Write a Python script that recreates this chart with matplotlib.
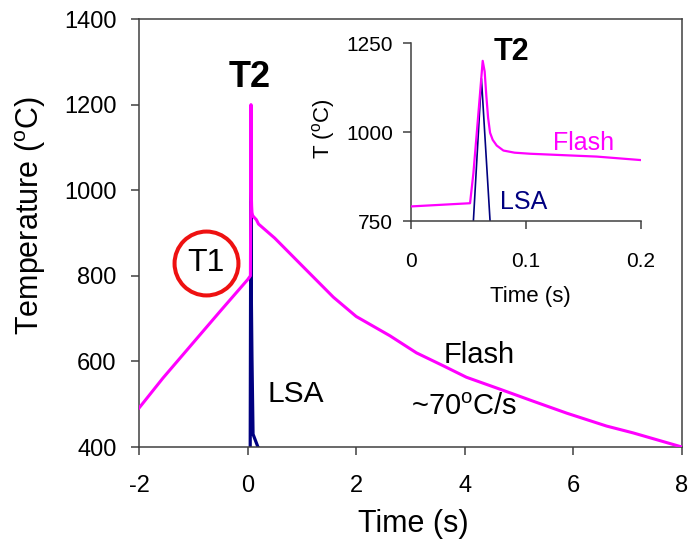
import matplotlib
matplotlib.use("Agg")
import matplotlib.pyplot as plt

plt.rcParams['font.family'] = ['Liberation Sans', 'DejaVu Sans']
plt.rcParams['mathtext.fontset'] = 'custom'
plt.rcParams['mathtext.rm'] = 'Liberation Sans'
plt.rcParams['mathtext.it'] = 'Liberation Sans'
plt.rcParams['mathtext.bf'] = 'Liberation Sans:bold'

# ---- data ----
flash_t = [-2.0, -1.56, -1.0, -0.5, 0.0, 0.0513, 0.0542, 0.0571, 0.060, 0.0623,
           0.0640, 0.0655, 0.067, 0.0687, 0.071, 0.0745, 0.0803, 0.090, 0.1035,
           0.1325, 0.1615, 0.2006,
           0.5, 1.0, 1.58, 2.0, 2.62, 3.11, 3.60, 4.03, 4.65, 5.26, 5.88,
           6.61, 7.10, 8.0]
flash_T = [491, 561, 644, 718, 791, 800, 884, 996, 1109, 1200,
           1170, 1100, 1040, 998, 978, 962, 948, 942, 939,
           935, 931, 921,
           888, 824, 750, 705, 660, 620, 590, 563, 535, 507, 479,
           449, 433, 400]

lsa_t = [0.0, 0.047, 0.0542, 0.0612, 0.0687, 0.080, 0.10, 0.19, 0.30]
lsa_T = [350, 350, 750, 1150, 750, 610, 430, 400, 380]

main_xticks = [-2, 0, 2, 4, 6, 8]
main_yticks = [400, 600, 800, 1000, 1200, 1400]
inset_xticks = [0, 0.1, 0.2]
inset_xticklabels = ['0', '0.1', '0.2']
inset_yticks = [750, 1000, 1250]

PINK = '#ff00ff'
NAVY = '#000080'
FRAME = '#404040'

fig = plt.figure(figsize=(6.92, 5.40), dpi=100)
ax = fig.add_axes([0.2009, 0.1722, 0.7846, 0.7926])

ax.plot(lsa_t, lsa_T, color=NAVY, lw=2.3, zorder=2)
ax.plot(flash_t, flash_T, color=PINK, lw=2.2, zorder=3)

ax.set_xlim(-2, 8)
ax.set_ylim(400, 1400)
ax.set_xticks(main_xticks)
ax.set_yticks(main_yticks)
ax.set_xticklabels([str(v) for v in main_xticks])
for s in ax.spines.values():
    s.set_color(FRAME)
    s.set_linewidth(1.1)
ax.tick_params(axis='both', direction='out', length=5.8, width=1.1, color=FRAME,
               labelsize=17, top=False, right=False)
ax.tick_params(axis='x', pad=14)
ax.tick_params(axis='y', pad=10.5)

ax.set_xlabel('Time (s)', fontsize=22)
ax.xaxis.set_label_coords(0.505, -0.145)
ax.set_ylabel('Temperature ($\\mathregular{^o}$C)', fontsize=22)
ax.yaxis.set_label_coords(-0.168, 0.54)

# annotations
ax.text(0.03, 1241, 'T2', fontsize=26, fontweight='bold', ha='center', va='baseline')
ax.text(0.36, 505, 'LSA', fontsize=21.5, ha='left', va='baseline')
ax.text(4.27, 596, 'Flash', fontsize=21, ha='center', va='baseline')
ax.text(3.99, 475, '~70$\\mathregular{^o}$C/s', fontsize=21, ha='center', va='baseline')
ax.text(-0.77, 829, 'T1', fontsize=23, ha='center', va='center')
ax.plot([-0.77], [829], marker='o', ms=46, mfc='none', mec='#ee1111', mew=2.9,
        clip_on=False, zorder=5)

# ---- inset ----
ins = fig.add_axes([0.594, 0.5907, 0.3324, 0.3296])
ins.set_facecolor('none')
ins.plot(lsa_t, lsa_T, color=NAVY, lw=1.2, zorder=2)
ins.plot(flash_t, flash_T, color=PINK, lw=1.6, zorder=3)
ins.set_xlim(0, 0.2)
ins.set_ylim(750, 1250)
ins.set_xticks(inset_xticks)
ins.set_xticklabels(inset_xticklabels)
ins.set_yticks(inset_yticks)
ins.spines['top'].set_visible(False)
ins.spines['right'].set_visible(False)
for s in ('left', 'bottom'):
    ins.spines[s].set_color(FRAME)
    ins.spines[s].set_linewidth(1.1)
ins.tick_params(axis='both', direction='out', length=5.8, width=1.1, color=FRAME,
                labelsize=15)
ins.tick_params(axis='x', pad=16.5)
ins.tick_params(axis='y', pad=7)
ins.set_xlabel('Time (s)', fontsize=16)
ins.xaxis.set_label_coords(0.52, -0.365)
ins.set_ylabel('T ($\\mathregular{^o}$C)', fontsize=16)
ins.yaxis.set_label_coords(-0.32, 0.52)

ins.text(0.087, 1202, 'T2', fontsize=22, fontweight='bold', ha='center', va='baseline')
ins.text(0.1235, 950, 'Flash', fontsize=18, color=PINK, ha='left', va='baseline')
ins.text(0.0774, 784, 'LSA', fontsize=18, color=NAVY, ha='left', va='baseline')

fig.savefig('out.png', dpi=100)
